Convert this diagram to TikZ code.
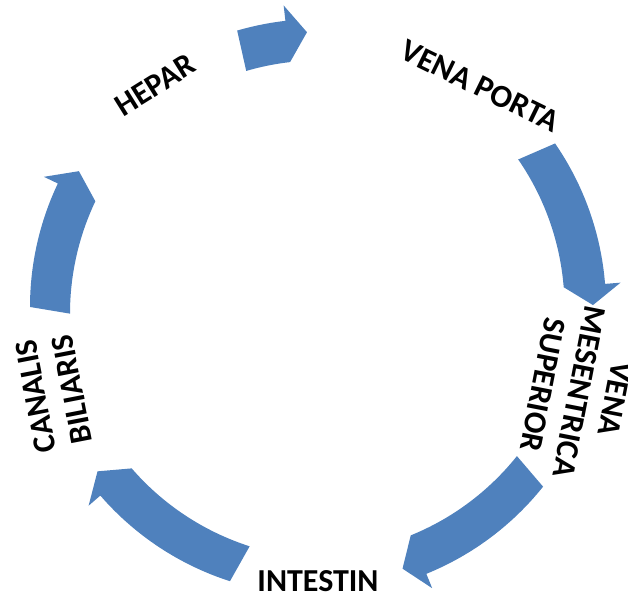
\documentclass[tikz,border=0pt]{standalone}
\usepackage{fontspec}
\setmainfont{Carlito}
\begin{document}
\begin{tikzpicture}[x=1pt,y=1pt,
  lbl/.style={font=\bfseries\fontsize{32}{37}\selectfont, inner sep=0pt, align=center, text=black},
  cyc/.style={fill=arrowblue, draw=none}]
\definecolor{arrowblue}{HTML}{4F81BD}
\useasboundingbox (0,0) rectangle (628,596);
% text nodes
\node[lbl, rotate=32]  (hepar) at (155,511) {HEPAR};
\node[lbl, rotate=-26] (porta) at (480,510) {VENA PORTA};
\node[lbl, rotate=-101] (vms) at (579,204) {VENA\\MESENTRICA\\SUPERIOR};
\node[lbl] (intestin) at (318,15) {INTESTIN};
\node[lbl, rotate=101] (canalis) at (54,203) {CANALIS\\BILIARIS};
% circular arrows
\coordinate (c) at (318,289);
\def\R{275}\def\w{13}\def\H{28.5}
\foreach \a/\b/\h in {106.3/92.3/96.5, 34.6/0.4/4.6, -38.6/-72.1/-67.9, -107.8/-143.3/-139.1, 180/150.4/154.6}{
  \fill[cyc, shift={(c)}]
    (\a:\R+\w) arc[start angle=\a, end angle=\h, radius=\R+\w]
    -- (\h:\R+\H) -- (\b:\R) -- (\h:\R-\H)
    arc[start angle=\h, end angle=\a, radius=\R-\w] -- cycle;
}
\end{tikzpicture}
\end{document}
